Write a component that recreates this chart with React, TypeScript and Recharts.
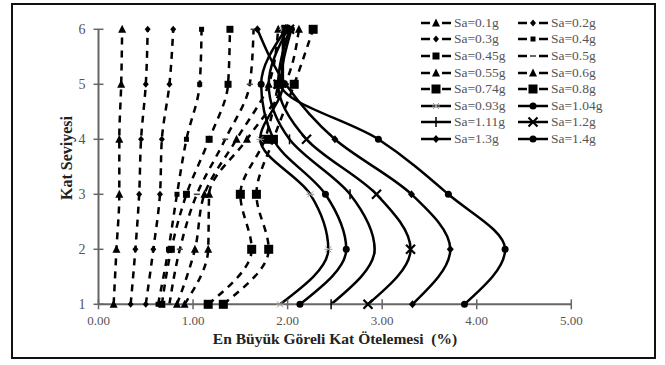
import React from 'react'
import { LineChart, Line, XAxis, YAxis, Legend } from 'recharts'

const levels = [1, 2, 3, 4, 5, 6]
const xTicks = [0, 1, 2, 3, 4, 5]

// drift (%) per storey level 1..6
const sa01 = [0.16, 0.19, 0.22, 0.22, 0.24, 0.25]
const sa02 = [0.34, 0.39, 0.43, 0.45, 0.5, 0.52]
const sa03 = [0.5, 0.58, 0.65, 0.67, 0.75, 0.79]
const sa04 = [0.63, 0.74, 0.83, 0.93, 1.07, 1.09]
const sa045 = [0.67, 0.77, 0.93, 1.17, 1.37, 1.39]
const sa05 = [0.75, 0.86, 1.04, 1.34, 1.6, 1.64]
const sa055 = [0.83, 1.02, 1.12, 1.46, 1.8, 1.9]
const sa06 = [0.91, 1.16, 1.17, 1.57, 1.97, 2.12]
const sa074 = [1.16, 1.62, 1.5, 1.76, 1.9, 1.98]
const sa08 = [1.32, 1.8, 1.67, 1.85, 2.07, 2.27]
const sa093 = [1.92, 2.43, 2.24, 1.71, 1.95, 1.95]
const sa104 = [2.13, 2.62, 2.4, 1.85, 1.72, 1.98]
const sa111 = [2.46, 2.92, 2.66, 2.02, 1.8, 2.0]
const sa12 = [2.85, 3.3, 2.94, 2.2, 1.9, 2.02]
const sa13 = [3.32, 3.72, 3.31, 2.5, 1.98, 1.68]
const sa14 = [3.87, 4.3, 3.7, 2.96, 1.93, 2.04]

const series = [
  { key: 'sa01', name: 'Sa=0.1g', values: sa01, dashed: true, marker: 'tri' },
  { key: 'sa02', name: 'Sa=0.2g', values: sa02, dashed: true, marker: 'dia' },
  { key: 'sa03', name: 'Sa=0.3g', values: sa03, dashed: true, marker: 'dia' },
  { key: 'sa04', name: 'Sa=0.4g', values: sa04, dashed: true, marker: 'sqS' },
  { key: 'sa045', name: 'Sa=0.45g', values: sa045, dashed: true, marker: 'sq' },
  { key: 'sa05', name: 'Sa=0.5g', values: sa05, dashed: true, marker: 'dash' },
  { key: 'sa055', name: 'Sa=0.55g', values: sa055, dashed: true, marker: 'tri' },
  { key: 'sa06', name: 'Sa=0.6g', values: sa06, dashed: true, marker: 'tri' },
  { key: 'sa074', name: 'Sa=0.74g', values: sa074, dashed: true, marker: 'sqL' },
  { key: 'sa08', name: 'Sa=0.8g', values: sa08, dashed: true, marker: 'sqL' },
  { key: 'sa093', name: 'Sa=0.93g', values: sa093, dashed: false, marker: 'star' },
  { key: 'sa104', name: 'Sa=1.04g', values: sa104, dashed: false, marker: 'circ' },
  { key: 'sa111', name: 'Sa=1.11g', values: sa111, dashed: false, marker: 'bar' },
  { key: 'sa12', name: 'Sa=1.2g', values: sa12, dashed: false, marker: 'x' },
  { key: 'sa13', name: 'Sa=1.3g', values: sa13, dashed: false, marker: 'dia2' },
  { key: 'sa14', name: 'Sa=1.4g', values: sa14, dashed: false, marker: 'circ' },
]

const data = levels.map((level, i) => {
  const row: Record<string, number> = { level }
  series.forEach((s) => (row[s.key] = s.values[i]))
  return row
})

const SERIF = '"Liberation Serif", "DejaVu Serif", serif'

function Marker({ kind, cx, cy }: { kind: string; cx?: number; cy?: number }) {
  if (cx == null || cy == null) return null
  const k = '#000'
  switch (kind) {
    case 'tri':
      return <path d={`M${cx} ${cy - 4.5}L${cx + 4} ${cy + 3.5}L${cx - 4} ${cy + 3.5}Z`} fill={k} />
    case 'dia':
      return <path d={`M${cx} ${cy - 3.5}L${cx + 3} ${cy}L${cx} ${cy + 3.5}L${cx - 3} ${cy}Z`} fill={k} />
    case 'dia2':
      return <path d={`M${cx} ${cy - 4}L${cx + 3.5} ${cy}L${cx} ${cy + 4}L${cx - 3.5} ${cy}Z`} fill={k} />
    case 'sqS':
      return <rect x={cx - 2.5} y={cy - 2.5} width={5} height={5} fill={k} />
    case 'sq':
      return <rect x={cx - 3.5} y={cy - 3.5} width={7} height={7} fill={k} />
    case 'sqL':
      return <rect x={cx - 4.5} y={cy - 4.5} width={9} height={9} fill={k} />
    case 'dash':
      return <rect x={cx - 3} y={cy - 0.8} width={6} height={1.6} fill="#444" />
    case 'star':
      return (
        <g stroke="#999" strokeWidth={1}>
          <line x1={cx - 4} y1={cy} x2={cx + 4} y2={cy} />
          <line x1={cx - 3} y1={cy - 3} x2={cx + 3} y2={cy + 3} />
          <line x1={cx - 3} y1={cy + 3} x2={cx + 3} y2={cy - 3} />
        </g>
      )
    case 'circ':
      return <circle cx={cx} cy={cy} r={3.5} fill={k} />
    case 'bar':
      return <line x1={cx} y1={cy - 5} x2={cx} y2={cy + 5} stroke={k} strokeWidth={1.5} />
    case 'x':
      return (
        <g stroke={k} strokeWidth={2.2}>
          <line x1={cx - 4.5} y1={cy - 4.5} x2={cx + 4.5} y2={cy + 4.5} />
          <line x1={cx - 4.5} y1={cy + 4.5} x2={cx + 4.5} y2={cy - 4.5} />
        </g>
      )
    default:
      return null
  }
}

function XTick({ x, y, payload }: any) {
  return (
    <g>
      <line x1={x} x2={x} y1={y - 5} y2={y + 5} stroke="#666" strokeWidth={1.5} />
      <text x={x} y={y + 21} textAnchor="middle" fontFamily={SERIF} fontSize={13} fill="#555">
        {Number(payload.value).toFixed(2)}
      </text>
    </g>
  )
}

function YTick({ x, y, payload }: any) {
  return (
    <g>
      <line x1={x - 5} x2={x + 5} y1={y} y2={y} stroke="#666" strokeWidth={1.5} />
      <text x={x - 13} y={y + 5} textAnchor="end" fontFamily={SERIF} fontSize={14} fill="#555">
        {payload.value}
      </text>
    </g>
  )
}

function LegendBox() {
  return (
    <div
      style={{
        display: 'grid',
        gridTemplateColumns: '97px 97px',
        fontFamily: SERIF,
        fontSize: 13.5,
        color: '#555',
      }}
    >
      {series.map((s) => (
        <div key={s.key} style={{ display: 'flex', alignItems: 'center', height: 16.6, whiteSpace: 'nowrap' }}>
          <svg width={30} height={12} style={{ marginRight: 3, flexShrink: 0 }}>
            <line
              x1={0}
              y1={6}
              x2={30}
              y2={6}
              stroke="#000"
              strokeWidth={2.5}
              strokeDasharray={s.dashed ? '9 12' : undefined}
            />
            <Marker kind={s.marker} cx={15} cy={6} />
          </svg>
          <span>{s.name}</span>
        </div>
      ))}
    </div>
  )
}

export default function App() {
  return (
    <div style={{ position: 'absolute', left: 0, top: 0, width: 665, height: 365, background: '#fff' }}>
      <div
        style={{
          position: 'absolute',
          left: 11,
          top: 3,
          width: 645,
          height: 356,
          border: '2px solid #111',
          boxSizing: 'border-box',
        }}
      />
      <div style={{ position: 'absolute', left: 0, top: 0 }}>
        <LineChart
          width={665}
          height={365}
          data={data}
          layout="vertical"
          margin={{ top: 29.3, right: 93.7, bottom: 30.7, left: 58.5 }}
        >
          <XAxis
            type="number"
            domain={[0, 5]}
            ticks={xTicks}
            height={30}
            tickSize={0}
            tickMargin={0}
            tickLine={false}
            axisLine={{ stroke: '#666', strokeWidth: 2 }}
            tick={<XTick />}
            interval={0}
          />
          <YAxis
            type="number"
            dataKey="level"
            domain={[1, 6]}
            ticks={levels}
            reversed
            width={40}
            tickSize={0}
            tickMargin={0}
            tickLine={false}
            axisLine={{ stroke: '#666', strokeWidth: 2 }}
            tick={<YTick />}
            interval={0}
          />
          <Legend
            layout="horizontal"
            verticalAlign="middle"
            align="center"
            content={() => <LegendBox />}
            wrapperStyle={{ left: 421, top: 14.5, width: 200, height: 134 }}
          />
          {series.map((s) => (
            <Line
              key={s.key}
              dataKey={s.key}
              name={s.name}
              type="monotone"
              stroke="#000"
              strokeWidth={2.5}
              strokeDasharray={s.dashed ? '7 6' : undefined}
              dot={(p: any) => <Marker key={`${s.key}-${p.index}`} kind={s.marker} cx={p.cx} cy={p.cy} />}
              activeDot={false}
              isAnimationActive={false}
            />
          ))}
        </LineChart>
      </div>
      <div
        style={{
          position: 'absolute',
          left: 0,
          width: 670,
          top: 330,
          lineHeight: '17px',
          textAlign: 'center',
          fontFamily: SERIF,
          fontWeight: 'bold',
          fontSize: 15.5,
          color: '#222',
          whiteSpace: 'pre',
        }}
      >
        {'En Büyük Göreli Kat Ötelemesi  (%)'}
      </div>
      <div
        style={{
          position: 'absolute',
          left: 67,
          top: 158,
          transform: 'translate(-50%, -50%) rotate(-90deg)',
          fontFamily: SERIF,
          fontWeight: 'bold',
          fontSize: 16,
          color: '#222',
          whiteSpace: 'nowrap',
        }}
      >
        Kat Seviyesi
      </div>
    </div>
  )
}
